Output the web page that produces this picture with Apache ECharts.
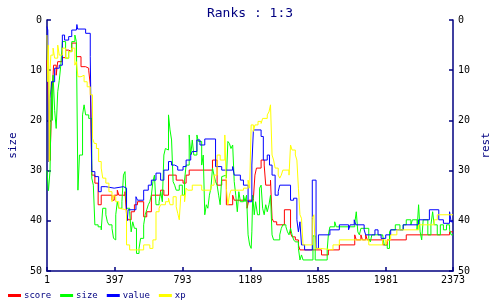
<!DOCTYPE html>
<html><head><meta charset="utf-8">
<script src="https://cdn.jsdelivr.net/npm/echarts@6/dist/echarts.min.js"></script>
<style>html,body{margin:0;padding:0;background:#fff}#c{width:500px;height:300px}</style>
</head><body><div id="c"></div>
<script>
const xTicks = [1, 397, 793, 1189, 1585, 1981, 2373];
const seriesNames = ['score', 'size', 'value', 'xp'];
const scoreData = [[1,8],[12,20],[19,28],[30,15],[40,9],[55,11],[64,8.3],[90,7.5],[110,6],[128,6.3],[146,4.6],[173,7.3],[200,9.3],[227,9.6],[245,10],[254,12.9],[263,30.9],[281,32.5],[300,36.8],[318,34.9],[381,35.9],[394,34.9],[412,33.9],[421,34.9],[457,34.2],[466,38.8],[475,39.8],[493,38.2],[512,36.8],[530,36.2],[566,39.2],[584,38.2],[611,34.9],[665,33.9],[684,34.9],[711,30.9],[756,31.9],[796,32.5],[814,30.9],[832,29.9],[968,27.9],[995,32.9],[1022,31.9],[1049,36.8],[1086,34.9],[1095,35.9],[1170,37.5],[1180,35.9],[1207,35.5],[1216,30.9],[1225,29.5],[1252,27.9],[1270,28.9],[1279,32.9],[1307,31.9],[1316,39.5],[1325,40.2],[1343,40.8],[1388,37.8],[1424,42.5],[1433,43.2],[1452,43.8],[1470,44.8],[1479,45.8],[1605,46.8],[1645,45.8],[1709,44.8],[1799,42.8],[1808,43.8],[1835,42.8],[1844,43.8],[1863,42.8],[1872,43.8],[1962,44.8],[1989,43.8],[2100,42.8],[2353,42.2],[2373,42.2]];
const sizeData = [[1,30],[10,34],[19,30],[28,12.3],[32,20],[37,11],[46,18],[55,21.6],[64,14.3],[73,12],[82,9],[91,4.3],[110,7.6],[128,6.3],[146,4.3],[164,3],[173,4.3],[182,33.9],[191,26.9],[209,18.9],[218,16.9],[227,18.9],[245,19.6],[263,31.5],[272,32.9],[281,40.8],[300,41.2],[318,41.8],[327,37.5],[345,38.8],[354,40.2],[363,40.8],[381,41.5],[390,43.5],[394,43.8],[403,38.8],[412,36.2],[421,37.5],[439,36.2],[448,30.9],[457,30.2],[466,37.5],[484,38.2],[493,42.2],[502,40.2],[512,41.5],[524,46.5],[539,45.5],[548,43.5],[566,40.8],[575,38.8],[584,37.8],[593,36.8],[602,36.2],[611,34.9],[620,32.2],[629,30.9],[638,36.8],[656,36.2],[665,34.2],[675,36.2],[684,26.9],[693,25.6],[702,25.9],[711,18.9],[720,21.9],[729,23.9],[738,32.2],[747,32.9],[756,33.9],[774,32.9],[792,34.9],[805,31.9],[814,28.9],[832,22.9],[841,26.9],[850,23.9],[859,26.9],[877,22.9],[886,24.2],[905,28.9],[914,26.9],[923,38.8],[932,36.8],[941,37.5],[950,34.9],[959,33.5],[968,29.5],[977,30.9],[986,32.2],[995,32.9],[1004,34.9],[1013,36.8],[1022,31.2],[1031,30.9],[1049,31.5],[1058,24.2],[1067,24.6],[1076,25.6],[1086,24.9],[1095,32.2],[1104,34.9],[1113,38.2],[1122,34.2],[1131,36.2],[1149,34.9],[1158,36.2],[1167,34.9],[1176,42.8],[1185,44.8],[1194,45.5],[1198,42.2],[1203,34.9],[1212,38.8],[1220,36.2],[1231,38.8],[1243,33.5],[1252,32.9],[1261,37.5],[1270,38.8],[1279,36.8],[1288,38.2],[1298,36.8],[1307,34.9],[1316,42.8],[1325,43.8],[1361,42.8],[1370,41.5],[1379,40.8],[1397,41.2],[1406,42.2],[1415,42.8],[1424,41.5],[1433,42.8],[1442,43.8],[1452,44.2],[1470,45.5],[1479,47.8],[1488,46.8],[1497,47.8],[1555,43],[1568,47.8],[1638,45.8],[1645,42.8],[1654,41.2],[1682,40.2],[1691,41.2],[1799,40.5],[1808,38.2],[1817,42.2],[1826,42.8],[1835,41.5],[1881,43.5],[1890,44.2],[1899,42.8],[1962,42.8],[1971,44.8],[1989,45.5],[2002,42.2],[2009,41.8],[2036,40.8],[2063,41.8],[2082,40.8],[2100,39.8],[2127,40.8],[2136,39.8],[2163,41.8],[2172,36.8],[2181,42.2],[2190,43.8],[2199,39.8],[2226,42.8],[2244,40.8],[2254,38.2],[2263,40.8],[2281,42.8],[2299,40.8],[2317,41.8],[2335,40.8],[2353,41.8],[2362,42.8],[2373,42.8]];
const valueData = [[1,1.3],[6,2],[10,28.2],[19,15.6],[28,12.3],[46,9.6],[73,9],[91,3],[104,4],[128,3.3],[146,2],[173,1.8],[176,0.9],[180,1.8],[227,2.65],[254,7.3],[263,30.2],[281,31.2],[303,34.2],[318,33.2],[345,33.5],[394,33.2],[448,33.5],[466,38.8],[470,40],[475,37.8],[521,35.2],[530,35.9],[566,33.9],[593,32.9],[611,31.9],[638,30.5],[665,31.9],[684,29.9],[711,28.2],[729,28.9],[747,29.2],[765,29.9],[796,29.2],[814,27.9],[841,26.9],[850,26.2],[877,23.9],[895,24.9],[923,23.7],[986,29.2],[1022,29.9],[1086,29.2],[1095,30.9],[1131,31.9],[1149,32.9],[1176,36.2],[1198,28.9],[1207,21.9],[1252,23.2],[1265,27.9],[1288,26.9],[1301,28.9],[1316,30.9],[1334,34.9],[1352,34.2],[1361,32.9],[1424,35.9],[1442,35.5],[1461,39.8],[1470,42.2],[1479,40.2],[1488,44.8],[1506,45.8],[1551,31.9],[1573,45.5],[1587,42.8],[1654,41.8],[1709,40.8],[1763,41.8],[1772,40.8],[1796,39.8],[1805,40.8],[1854,41.8],[1863,42.8],[1917,41.8],[1935,42.8],[1953,43.5],[1980,42.8],[2009,41.8],[2082,40.8],[2172,39.8],[2235,37.8],[2290,39.8],[2317,40.5],[2353,38.2],[2362,40.2],[2373,40.2]];
const xpData = [[1,3],[6,12.3],[10,5],[14,28.2],[19,10],[24,7],[37,5.6],[46,7.6],[64,5],[73,7],[91,5.6],[110,7.6],[128,6.3],[146,5.6],[164,9],[173,8.3],[182,11.3],[200,11],[218,12.3],[236,13.3],[254,14.9],[267,23.6],[278,24.6],[290,25.6],[303,28.2],[318,29.5],[327,31.5],[345,32.5],[363,34.2],[381,36.2],[390,34.9],[394,35.2],[403,36.2],[421,37.5],[430,37.8],[466,44.8],[484,45.8],[566,44.8],[602,45.5],[620,43.8],[638,38.2],[656,37.5],[665,36.8],[693,36.2],[711,35.5],[720,36.8],[738,35.2],[756,37.2],[765,38.5],[774,39.8],[783,34.9],[805,36.2],[814,33.5],[823,33.9],[850,32.9],[905,33.9],[959,32.9],[977,30.9],[995,26.9],[1013,27.9],[1040,22.9],[1049,33.5],[1058,36.8],[1067,34.9],[1076,33.9],[1149,33.5],[1176,31.9],[1185,33.5],[1194,20.9],[1207,22.2],[1216,20.9],[1234,20.2],[1252,20.6],[1261,19.6],[1288,18.9],[1298,18.3],[1307,16.9],[1316,26.9],[1325,27.9],[1334,29.5],[1352,30.9],[1361,31.5],[1370,30.9],[1379,29.9],[1415,30.9],[1424,24.9],[1433,25.9],[1452,26.9],[1461,27.9],[1470,33.5],[1479,38.8],[1488,39.5],[1497,44.8],[1551,39.5],[1560,38.8],[1569,45.5],[1600,45.8],[1672,44.8],[1709,43.8],[1881,44.8],[1962,43.8],[1980,44.8],[1991,43.8],[2009,42.8],[2045,41.8],[2172,40.8],[2263,39.8],[2281,38.8],[2373,38.8]];

const NAVY = '#000080';
const MONO = 'DejaVu Sans Mono';
const colors = ['#ff0000', '#00ff00', '#0000ff', '#ffff00'];
const allData = [scoreData, sizeData, valueData, xpData];

const yAxisBase = (pos, name, gap) => ({
  type: 'value', position: pos, name: name, nameLocation: 'middle', nameGap: gap,
  nameTextStyle: {color: NAVY, fontFamily: MONO, fontSize: 11},
  min: 0, max: 50, interval: 10, inverse: true,
  axisLine: {show: true, onZero: false, lineStyle: {color: NAVY, width: 1.5}},
  axisTick: {show: true, inside: true, length: 4, lineStyle: {color: NAVY, width: 1.5}},
  axisLabel: {color: '#000', fontFamily: MONO, fontSize: 10, margin: 5},
  splitLine: {show: false}
});

const chart = echarts.init(document.getElementById('c'), null, {renderer: 'canvas'});
chart.setOption({
  animation: false,
  backgroundColor: '#fff',
  title: {text: 'Ranks : 1:3', left: 'center', top: 2,
    textStyle: {color: NAVY, fontFamily: MONO, fontSize: 13, fontWeight: 'normal'}},
  legend: {
    data: seriesNames, left: 3, top: 286, icon: 'rect', itemWidth: 13, itemHeight: 3, itemGap: 9,
    textStyle: {color: NAVY, fontFamily: MONO, fontSize: 9, padding: [0, 0, 0, -2]}
  },
  grid: {left: 32, right: 32, top: 20, bottom: 29},
  xAxis: {
    type: 'value', min: 1, max: 2373, position: 'bottom',
    axisLine: {onZero: false, lineStyle: {color: NAVY, width: 1.5}},
    axisTick: {show: true, inside: true, length: 4, customValues: xTicks, lineStyle: {color: NAVY, width: 1.5}},
    axisLabel: {color: '#000', fontFamily: MONO, fontSize: 10, margin: 4, customValues: xTicks,
      formatter: v => String(Math.round(v))},
    splitLine: {show: false}
  },
  yAxis: [yAxisBase('left', 'size', 27), yAxisBase('right', 'rest', 28)],
  series: seriesNames.map((n, i) => ({
    name: n, type: 'line', step: 'end', data: allData[i], showSymbol: false, symbol: 'none',
    lineStyle: {color: colors[i], width: 1}, itemStyle: {color: colors[i]}
  }))
});
</script></body></html>
